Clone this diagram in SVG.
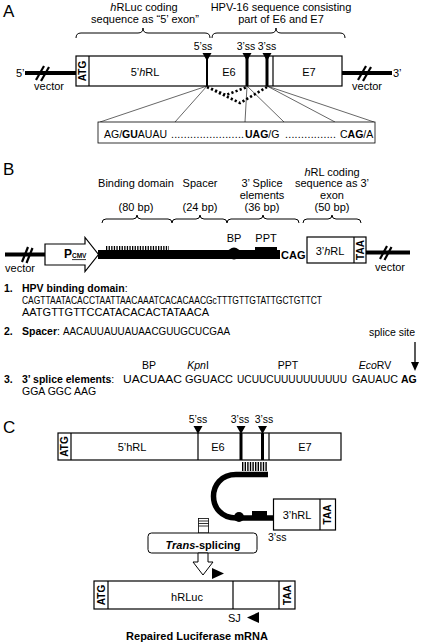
<svg xmlns="http://www.w3.org/2000/svg" width="424" height="643" viewBox="0 0 424 643">
<style>
text{font-family:"Liberation Sans",Arial,Helvetica,sans-serif;fill:#000}
.l{font-size:11px}
.s{font-size:10.5px}
.q{font-size:10.5px}
.b{font-weight:bold}
.i{font-style:italic}
.m{text-anchor:middle}
.p{font-size:17px}
.box{fill:#fff;stroke:#000;stroke-width:1.2}
.ln{stroke:#000;stroke-width:1.2;fill:none}
.thin{stroke:#000;stroke-width:0.6;fill:none}
.brace{fill:none;stroke:#000;stroke-width:1}
.vec{stroke:#000;stroke-width:4;fill:none}
.sl{stroke:#000;stroke-width:2.2;fill:none}
.tri{fill:#000}
</style>
<rect width="424" height="643" fill="#fff"/>

<!-- ===== Panel A ===== -->
<g id="panelA">
<text class="p" x="3" y="17">A</text>
<g id="A-labels">
<text class="l m" x="144" y="11"><tspan class="i">h</tspan>RLuc coding</text>
<text class="l m" x="145" y="23">sequence as “5’ exon”</text>
<text class="l m" x="281" y="11">HPV-16 sequence consisting</text>
<text class="l m" x="281" y="23">part of E6 and E7</text>
<path class="brace" d="M76,38 Q76,33 81,33 L138,33 Q143,33 143,28 Q143,33 148,33 L205,33 Q210,33 210,38"/>
<path class="brace" d="M212,38 Q212,33 217,33 L271,33 Q276,33 276,28 Q276,33 281,33 L340,33 Q345,33 345,38"/>
</g>
<g id="A-vector-left">
<text class="l" x="16" y="77">5’</text>
<line class="vec" x1="25" y1="73" x2="76" y2="73"/>
<line class="sl" x1="36" y1="80" x2="44" y2="66"/>
<line class="sl" x1="41" y1="81" x2="49" y2="67"/>
<text class="l m" x="49" y="90">vector</text>
</g>
<g id="A-construct">
<rect class="box" x="76" y="56" width="266" height="30"/>
<line class="ln" x1="89" y1="56" x2="89" y2="86"/>
<text class="b" font-size="10" text-anchor="middle" transform="translate(86.3,71) rotate(-90)">ATG</text>
<text class="l m" x="145" y="76">5’<tspan class="i">h</tspan>RL</text>
<text class="l m" x="229" y="76">E6</text>
<text class="l m" x="309" y="76">E7</text>
<line stroke="#000" stroke-width="2" x1="207" y1="56" x2="207" y2="86"/>
<line stroke="#000" stroke-width="3" x1="247" y1="56" x2="247" y2="86"/>
<line stroke="#000" stroke-width="3" x1="267" y1="56" x2="267" y2="86"/>
<line class="ln" x1="273" y1="56" x2="273" y2="86"/>
</g>
<g id="A-ss">
<text class="s m" x="203" y="50">5’ss</text>
<text class="s m" x="246" y="50">3’ss</text>
<text class="s m" x="267" y="50">3’ss</text>
<polygon class="tri" points="202.5,53 211.5,53 207,61"/>
<polygon class="tri" points="242.5,53 251.5,53 247,61"/>
<polygon class="tri" points="262.5,53 271.5,53 267,61"/>
</g>
<g id="A-vector-right">
<line class="vec" x1="342" y1="73" x2="392" y2="73"/>
<line class="sl" x1="358" y1="80" x2="366" y2="66"/>
<line class="sl" x1="363" y1="81" x2="371" y2="67"/>
<text class="l" x="393" y="77">3’</text>
<text class="l m" x="367" y="90">vector</text>
</g>
<g id="A-connectors">
<path d="M207,87 L226,95 L247,87 M207,87 L240,103 L267,87" fill="none" stroke="#000" stroke-width="2.6" stroke-dasharray="2.2 2.2"/>
<line class="thin" x1="207" y1="86" x2="100" y2="122"/>
<line class="thin" x1="207" y1="86" x2="175" y2="122"/>
<line class="thin" x1="247" y1="86" x2="245" y2="122"/>
<line class="thin" x1="247" y1="86" x2="284" y2="122"/>
<line class="thin" x1="267" y1="86" x2="335" y2="122"/>
<line class="thin" x1="267" y1="86" x2="374" y2="122"/>
</g>
<g id="A-sequence">
<rect x="98" y="122" width="277" height="21" fill="#fff" stroke="#000" stroke-width="0.8"/>
<text class="s" x="104" y="138">AG/<tspan class="b">GU</tspan>AUAU</text>
<text class="s" x="171" y="138" textLength="73" lengthAdjust="spacing">.......................</text>
<text class="s" x="245" y="138"><tspan class="b">UAG</tspan>/G</text>
<text class="s" x="285" y="138" textLength="51" lengthAdjust="spacing">................</text>
<text class="s" x="340" y="138">C<tspan class="b">AG</tspan>/A</text>
</g>
</g>

<!-- ===== Panel B ===== -->
<g id="panelB">
<text class="p" x="3" y="175">B</text>
<g id="B-labels">
<text class="l m" x="136" y="187">Binding domain</text>
<text class="l m" x="200" y="187">Spacer</text>
<text class="l m" x="262" y="187">3’ Splice</text>
<text class="l m" x="262" y="199">elements</text>
<text class="l m" x="136" y="211">(80 bp)</text>
<text class="l m" x="200" y="211">(24 bp)</text>
<text class="l m" x="262" y="211">(36 bp)</text>
<text class="l m" x="332" y="176"><tspan class="i">h</tspan>RL coding</text>
<text class="l m" x="332" y="187">sequence  as 3’</text>
<text class="l m" x="332" y="199">exon</text>
<text class="l m" x="332" y="211">(50 bp)</text>
<path class="brace" d="M102,223 Q102,219 106,219 L133,219 Q137,219 137,215 Q137,219 141,219 L168,219 Q172,219 172,223"/>
<path class="brace" d="M172,223 Q172,219 176,219 L196,219 Q200,219 200,215 Q200,219 204,219 L223,219 Q227,219 227,223"/>
<path class="brace" d="M227,223 Q227,219 231,219 L259,219 Q263,219 263,215 Q263,219 267,219 L295,219 Q299,219 299,223"/>
<path class="brace" d="M303,223 Q303,219 307,219 L328,219 Q332,219 332,215 Q332,219 336,219 L357,219 Q361,219 361,223"/>
</g>
<g id="B-vector-left">
<line class="vec" x1="5" y1="254.5" x2="46" y2="254.5"/>
<line class="sl" x1="22" y1="262" x2="28" y2="247"/>
<line class="sl" x1="26.5" y1="263" x2="32.5" y2="248"/>
<text class="l m" x="20" y="272">vector</text>
</g>
<g id="B-promoter">
<polygon points="45,244 85,244 85,237.5 98.5,254.5 85,271.5 85,265 45,265" fill="#fff" stroke="#000" stroke-width="1.2"/>
<text class="b" font-size="12" x="64" y="257.5">P</text>
<text class="b" font-size="6.5" x="72" y="258">CMV</text>
<line stroke="#000" stroke-width="0.8" x1="72" y1="259.6" x2="86" y2="259.6"/>
</g>
<g id="B-domain">
<line stroke="#000" stroke-width="9" x1="98" y1="254.5" x2="280" y2="254.5"/>
<line stroke="#000" stroke-width="5" stroke-dasharray="1.3 1.3" x1="106" y1="248.5" x2="169" y2="248.5"/>
<circle cx="234" cy="253.5" r="6"/>
<rect x="255" y="247" width="22" height="8" fill="#000"/>
<text class="l m" x="234" y="242">BP</text>
<text class="l m" x="266" y="242">PPT</text>
<text class="l b" x="281" y="259">CAG</text>
</g>
<g id="B-exon">
<rect class="box" x="307" y="237" width="59" height="26"/>
<line class="ln" x1="354" y1="237" x2="354" y2="263"/>
<text class="l m" x="330" y="255">3’<tspan class="i">h</tspan>RL</text>
<text class="b" font-size="10" text-anchor="middle" transform="translate(363.7,250) rotate(-90)">TAA</text>
</g>
<g id="B-vector-right">
<line class="vec" x1="366" y1="252.5" x2="410" y2="252.5"/>
<line class="sl" x1="380" y1="259" x2="387" y2="246"/>
<line class="sl" x1="384.5" y1="260" x2="391.5" y2="247"/>
<text class="l m" x="390" y="271">vector</text>
</g>
<g id="B-sequences">
<text class="q" x="4" y="291.5"><tspan class="b">1.</tspan></text>
<text class="q" x="22" y="291.5"><tspan class="b">HPV binding domain</tspan>:</text>
<text class="q" x="22" y="304" textLength="300" lengthAdjust="spacingAndGlyphs">CAGTTAATACACCTAATTAACAAATCACACAACGcTTTGTTGTATTGCTGTTCT</text>
<text class="q" x="22" y="316" textLength="187" lengthAdjust="spacingAndGlyphs">AATGTTGTTCCATACACACTATAACA</text>
<text class="q b" x="4" y="335">2.</text>
<text class="q" x="22" y="335"><tspan class="b">Spacer</tspan>:</text>
<text class="q" x="63" y="335" textLength="167" lengthAdjust="spacingAndGlyphs">AACAUUAUUAUAACGUUGCUCGAA</text>
<text class="q" x="369" y="336">splice site</text>
<line stroke="#000" stroke-width="1.3" x1="415" y1="342" x2="415" y2="364"/>
<polygon class="tri" points="411,362 419,362 415,371"/>
<text class="q m" x="149" y="369">BP</text>
<text class="q m" x="198" y="369"><tspan class="i">Kpn</tspan>I</text>
<text class="q m" x="288" y="369">PPT</text>
<text class="q m" x="375" y="369"><tspan class="i">Eco</tspan>RV</text>
<text class="q b" x="4" y="383">3.</text>
<text class="q b" x="22" y="383">3’ splice elements<tspan font-weight="normal">:</tspan></text>
<text class="q" x="123" y="383" textLength="59" lengthAdjust="spacingAndGlyphs">UACUAAC</text>
<text class="q" x="185" y="383" textLength="48" lengthAdjust="spacingAndGlyphs">GGUACC</text>
<text class="q" x="237" y="383" textLength="110" lengthAdjust="spacingAndGlyphs">UCUUCUUUUUUUUUU</text>
<text class="q" x="352" y="383" textLength="46" lengthAdjust="spacingAndGlyphs">GAUAUC</text>
<text class="q b" x="401" y="383">AG</text>
<text class="q" x="22" y="395">GGA GGC AAG</text>
</g>
</g>

<!-- ===== Panel C ===== -->
<g id="panelC">
<text class="p" x="3" y="433">C</text>
<g id="C-premrna">
<rect class="box" x="58" y="433" width="283" height="27"/>
<line class="ln" x1="71" y1="433" x2="71" y2="460"/>
<text class="b" font-size="10" text-anchor="middle" transform="translate(68,446.5) rotate(-90)">ATG</text>
<line class="ln" x1="198" y1="433" x2="198" y2="460"/>
<line stroke="#000" stroke-width="3" x1="241" y1="433" x2="241" y2="460"/>
<line stroke="#000" stroke-width="3" x1="262.5" y1="433" x2="262.5" y2="460"/>
<line class="ln" x1="269" y1="433" x2="269" y2="460"/>
<text class="l m" x="132" y="451">5’hRL</text>
<text class="l m" x="218" y="451">E6</text>
<text class="l m" x="305" y="451">E7</text>
<text class="s m" x="198" y="423">5’ss</text>
<text class="s m" x="240" y="423">3’ss</text>
<text class="s m" x="264" y="423">3’ss</text>
<polygon class="tri" points="193.5,426 202.5,426 198,434"/>
<polygon class="tri" points="236.5,426 245.5,426 241,434"/>
<polygon class="tri" points="258,426 267,426 262.5,434"/>
</g>
<g id="C-ptm">
<line stroke="#000" stroke-width="9" stroke-dasharray="1.4 1.2" x1="242" y1="466.5" x2="267" y2="466.5"/>
<path d="M268,474.5 L236,474.5 C206,474.5 206,518 236,518 L273,518" fill="none" stroke="#000" stroke-width="5.5"/>
<circle cx="239" cy="517" r="5"/>
<rect x="252" y="511" width="15" height="7" fill="#000"/>
<rect class="box" x="273.5" y="499" width="62" height="31"/>
<line class="ln" x1="320" y1="499" x2="320" y2="530"/>
<text class="l m" x="297" y="519">3’hRL</text>
<text class="b" font-size="10" text-anchor="middle" transform="translate(331.3,514.5) rotate(-90)">TAA</text>
<text class="s" x="268" y="541">3’ss</text>
</g>
<g id="C-stub">
<rect x="198.5" y="518.5" width="10" height="14.5" fill="#fff" stroke="#000" stroke-width="0.8"/>
<line stroke="#000" stroke-width="0.8" x1="198.5" y1="521" x2="208.5" y2="521"/>
<line stroke="#000" stroke-width="0.8" x1="198.5" y1="523.5" x2="208.5" y2="523.5"/>
<line stroke="#000" stroke-width="0.8" x1="198.5" y1="526" x2="208.5" y2="526"/>
</g>
<g id="C-transsplicing">
<rect x="148" y="533" width="109" height="20" rx="3.5" fill="#fff" stroke="#000" stroke-width="1"/>
<text class="l b m" x="203" y="549"><tspan class="i">Trans</tspan>-splicing</text>
</g>
<g id="C-arrow">
<polygon points="198,553 208,553 208,562 213,562 203,575 193,562 198,562" fill="#fff" stroke="#000" stroke-width="1"/>
<polygon class="tri" points="212,568 212,579 224,573.5"/>
</g>
<g id="C-mrna">
<rect class="box" x="94" y="581" width="201" height="28"/>
<line class="ln" x1="108" y1="581" x2="108" y2="609"/>
<line class="ln" x1="233" y1="581" x2="233" y2="609"/>
<line class="ln" x1="279" y1="581" x2="279" y2="609"/>
<text class="b" font-size="10" text-anchor="middle" transform="translate(104.5,595) rotate(-90)">ATG</text>
<text class="b" font-size="10" text-anchor="middle" transform="translate(290.5,595) rotate(-90)">TAA</text>
<text class="l m" x="187" y="601">hRLuc</text>
<text class="l" x="228" y="622">SJ</text>
<polygon class="tri" points="247,617.5 259,612 259,623"/>
<text class="l b m" x="197" y="640">Repaired Luciferase mRNA</text>
</g>
</g>
</svg>
